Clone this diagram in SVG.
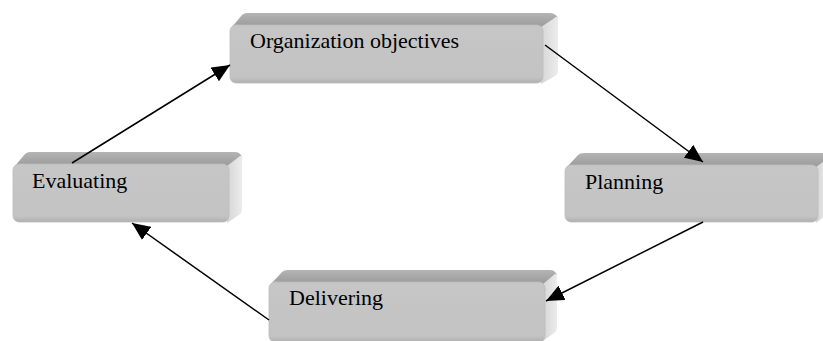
<svg xmlns="http://www.w3.org/2000/svg" width="823" height="341" viewBox="0 0 823 341">
  <defs>
    <linearGradient id="gTop" x1="0" y1="0" x2="0" y2="1">
      <stop offset="0" stop-color="#b4b4b4"/>
      <stop offset="1" stop-color="#9a9a9a"/>
    </linearGradient>
    <linearGradient id="gSide" x1="0" y1="0" x2="1" y2="0">
      <stop offset="0" stop-color="#d6d6d6"/>
      <stop offset="1" stop-color="#ececec"/>
    </linearGradient>
    <linearGradient id="gFront" x1="0" y1="0" x2="0" y2="1">
      <stop offset="0" stop-color="#c6c6c6"/>
      <stop offset="0.9" stop-color="#c3c3c3"/>
      <stop offset="1" stop-color="#b0b0b0"/>
    </linearGradient>
    <marker id="arrow" markerUnits="userSpaceOnUse" markerWidth="19" markerHeight="16" refX="18" refY="8" orient="auto">
      <path d="M0,0 L18,8 L0,16 z" fill="#000"/>
    </marker>
  </defs>
  <style>
    .top { fill: url(#gTop); }
    .side { fill: url(#gSide); }
    .front { fill: url(#gFront); stroke: #bdbdbd; stroke-width: 0.8; }
    .label { font-family: "Liberation Serif", "Times New Roman", serif; font-size: 22px; fill: #000; }
    .conn { stroke: #000; stroke-width: 1.5; fill: none; marker-end: url(#arrow); }
  </style>

  <g id="node-organization">
    <path class="top" d="M232,27 L242,15 Q244,13 247,13 L550,13 Q555,13 558,18 L545,27 Z"/>
    <path class="side" d="M541,27 L556,17 Q558,16 558,20 L558,70 Q558,74 555,76 L541,84 Z"/>
    <rect class="front" x="230" y="25" width="313" height="58" rx="6"/>
    <text class="label" x="250" y="48">Organization objectives</text>
  </g>

  <g id="node-evaluating">
    <path class="top" d="M15,166 L25,154 Q27,152 30,152 L235,152 Q240,152 242,157 L231,166 Z"/>
    <path class="side" d="M227,166 L240,156 Q242,155 242,159 L242,209 Q242,213 239,215 L227,223 Z"/>
    <rect class="front" x="13" y="164" width="216" height="58" rx="6"/>
    <text class="label" x="32" y="188">Evaluating</text>
  </g>

  <g id="node-planning">
    <path class="top" d="M567,167 L578,155 Q580,153 584,153 L830,153 L830,160 L820,167 Z"/>
    <path class="side" d="M816,167 L830,157 L830,212 L816,223 Z"/>
    <rect class="front" x="565" y="165" width="253" height="57" rx="6"/>
    <text class="label" x="585" y="189">Planning</text>
  </g>

  <g id="node-delivering">
    <path class="top" d="M271,284 L282,272 Q284,270 288,270 L550,270 Q555,270 557,275 L547,284 Z"/>
    <path class="side" d="M543,284 L555,274 Q557,273 557,277 L557,327 Q557,331 554,333 L543,341 Z"/>
    <rect class="front" x="269" y="282" width="276" height="60" rx="6"/>
    <text class="label" x="289" y="305">Delivering</text>
  </g>

  <g id="connectors">
    <line class="conn" x1="72" y1="163" x2="230" y2="65"/>
    <line class="conn" x1="545" y1="45" x2="703" y2="162"/>
    <line class="conn" x1="703" y1="222" x2="546" y2="301"/>
    <line class="conn" x1="269" y1="320" x2="132" y2="223"/>
  </g>
</svg>
